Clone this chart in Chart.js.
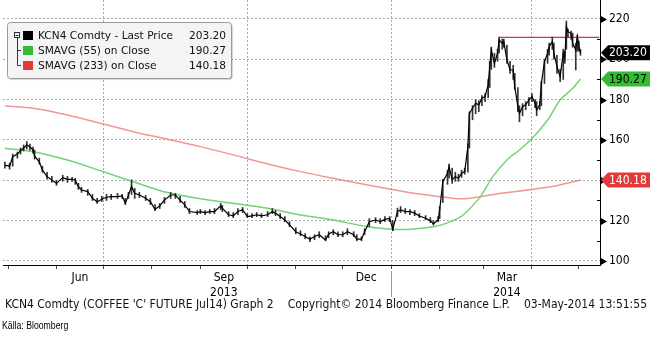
<!DOCTYPE html>
<html>
<head>
<meta charset="utf-8">
<script src="https://cdn.jsdelivr.net/npm/chart.js@4.4.1/dist/chart.umd.min.js"></script>
<style>
  body { margin: 0; background: #fff; }
  #wrap { position: relative; width: 650px; height: 339px; }
  #foot { position: absolute; left: 5px; top: 297px; width: 642px; display: flex; justify-content: space-between;
          font: 12px "DejaVu Sans Condensed", "DejaVu Sans", sans-serif; color: #111; white-space: pre; }
  #src { position: absolute; left: 2px; top: 320px; font: 10px "Liberation Sans Narrow", "Liberation Sans", sans-serif;
         color: #000; transform: scaleX(0.87); transform-origin: left top; }
</style>
</head>
<body>
<div id="wrap">
  <canvas id="myChart" width="650" height="339"></canvas>
  <div id="foot"><span>KCN4 Comdty (COFFEE 'C' FUTURE Jul14) Graph 2</span><span>Copyright© 2014 Bloomberg Finance L.P.</span><span>03-May-2014 13:51:55</span></div>
  <div id="src">Källa: Bloomberg</div>
</div>
<script>
// Data
const priceDates = [
  '2013-04-29','2013-05-02','2013-05-04','2013-05-07','2013-05-09','2013-05-11','2013-05-13','2013-05-15','2013-05-17','2013-05-18',
  '2013-05-21','2013-05-23','2013-05-26','2013-05-29','2013-06-01','2013-06-05','2013-06-08','2013-06-11','2013-06-13','2013-06-15',
  '2013-06-17','2013-06-21','2013-06-24','2013-06-27','2013-06-30','2013-07-03','2013-07-06','2013-07-10','2013-07-13','2013-07-15',
  '2013-07-17','2013-07-19','2013-07-21','2013-07-24','2013-07-28','2013-07-31','2013-08-03','2013-08-06','2013-08-09','2013-08-13',
  '2013-08-16','2013-08-19','2013-08-22','2013-08-25','2013-08-30','2013-09-01','2013-09-04','2013-09-07','2013-09-10','2013-09-14',
  '2013-09-15','2013-09-19','2013-09-22','2013-09-25','2013-09-28','2013-10-01','2013-10-04','2013-10-07','2013-10-10','2013-10-14',
  '2013-10-17','2013-10-19','2013-10-22','2013-10-25','2013-10-28','2013-11-01','2013-11-04','2013-11-07','2013-11-10','2013-11-13',
  '2013-11-16','2013-11-20','2013-11-22','2013-11-25','2013-11-28','2013-12-01','2013-12-04','2013-12-08','2013-12-10','2013-12-13',
  '2013-12-15','2013-12-18','2013-12-22','2013-12-25','2013-12-28','2013-12-31','2014-01-02','2014-01-05','2014-01-07','2014-01-10',
  '2014-01-13','2014-01-16','2014-01-19','2014-01-23','2014-01-26','2014-01-28','2014-01-31','2014-02-01','2014-02-03','2014-02-06',
  '2014-02-07','2014-02-09','2014-02-11','2014-02-13','2014-02-15','2014-02-17','2014-02-19','2014-02-20','2014-02-22','2014-02-24',
  '2014-02-26','2014-02-28','2014-03-02','2014-03-04','2014-03-05','2014-03-06','2014-03-08','2014-03-10','2014-03-11','2014-03-13',
  '2014-03-14','2014-03-16','2014-03-18','2014-03-20','2014-03-21','2014-03-23','2014-03-24','2014-03-26','2014-03-28','2014-03-30',
  '2014-04-01','2014-04-03','2014-04-04','2014-04-06','2014-04-07','2014-04-09','2014-04-11','2014-04-12','2014-04-14','2014-04-15',
  '2014-04-17','2014-04-19','2014-04-21','2014-04-22','2014-04-23','2014-04-24','2014-04-26','2014-04-27','2014-04-29','2014-04-30',
  '2014-05-01','2014-05-02'
];
const priceClose = [
  147.5,147,151.7,153,154.7,156,157.5,156.7,155,152,
  149.2,145,141.8,140.2,138.5,141.3,140.5,140.5,140,136.9,
  135.2,134.4,131.1,129.4,130.6,131.6,131.9,131.9,132.2,128.6,
  132.7,136.9,133.6,132.7,131.1,129.4,125.6,127.3,130.2,132.7,
  132.7,130.2,127.8,124.5,124,124.5,124,124.5,124.5,127.3,
  126.2,122.9,122.4,124.5,125.4,122,122.4,122.9,122.4,122.9,
  124.5,123.6,122,120.3,117.9,114.5,113.4,112.1,110.7,112.1,
  113,110.4,113.4,114.5,113,113,114.5,113,110.8,110.8,
  114.5,119.5,120.3,119.5,120.6,121.1,115.7,124.5,125.3,124.5,
  124.5,123.7,122.3,121.2,120,118.4,120.3,125.3,139.3,143.5,
  146.8,140.2,141.8,141,143.5,144.3,156.7,173.2,175.7,178.2,
  177.4,180.7,181.5,187.3,196.4,204.6,198,203,209.6,207.9,
  208.7,199.7,194.7,194.7,186.4,176.5,173.2,176.5,177.4,179.8,
  181.5,178.2,174.9,177.4,188.1,198.8,203,206.3,208.7,203,
  196.4,191.4,203,200.5,216.2,213.7,212.9,207.9,204.6,211.2,
  206.3,203.2
];
const priceHigh = [
  149,148.5,153,154,156,157.5,159.2,158,156.5,155,
  151,147,144,142,140,142.5,142,141.5,141,138.5,
  136.5,135.5,133,131,132,133,133,133.5,133,131,
  134,140.2,136,134,132.5,131,128,128.5,131.5,134,
  133.5,132,129.5,126,125,125.5,125,125.5,126,128.5,
  127.5,124.5,124,126,126.5,123.5,123.5,124,123.5,124.5,
  126,125,123.5,122,119.5,116.5,115,113.5,112,113,
  114.5,112.5,114.5,115.5,114.5,114.5,116,114.5,113,112,
  116,121,121.5,121,122,122,120,126.2,127,126,
  125.5,125,123.5,122.5,121.5,120,122,127,140.5,145,
  148,146,144,143,145,146,158,174,177,180,
  179.5,182,183,190,199,206,203,205,211,210,
  210,207,199,197,193,186,177,178,179,181,
  183,180,179,179,189,200,205,208,211,208,
  202,195,205,204,219,215,214,213,208,212,
  209,205
];
const priceLow = [
  146,145.5,147,151,153,154.5,155.5,155,153.5,150.5,
  148,144,140.5,139,137.5,139.5,139,139.5,138,135.5,
  134,132.5,130,128.5,129.5,130,130.5,131,131,128,
  131,133,131,131.5,130,128,125,126,128.5,131,
  131,129,126.5,123.5,123,123.5,123,123.5,123.5,125.5,
  124.5,122,121.5,123,124,121.5,121.5,122,121.5,122,
  123.5,122.5,121,119.5,117,113.5,112.5,111,109.6,110.5,
  111.5,110,111.5,113,112,112,113,112,110,110,
  113,117,119,118.5,119.5,119.5,115,122,124,123.5,
  123,122.5,121.5,120.5,119,117.8,119.5,121,129,138,
  141,138.5,139.5,139.5,141.5,143,144,156,170,173,
  174,177,179,181,186,195,196,199,203,205,
  206,198,193,190,185,174,169,172,175,177,
  179,176,172,175,177,188,198,202,205,200,
  193,188.9,190,198,205,211,210,206,194.7,204,
  204,202
];
const sma55Dates = ['2013-04-29','2013-05-17','2013-06-08','2013-06-29','2013-07-20','2013-08-11','2013-09-01','2013-09-22',
  '2013-10-14','2013-11-04','2013-11-25','2013-12-17','2014-01-07','2014-01-28','2014-02-08','2014-02-16','2014-02-27',
  '2014-03-07','2014-03-16','2014-03-24','2014-04-02','2014-04-11','2014-04-19','2014-04-27','2014-05-02'];
const sma55 = [155.9,154.2,150.1,144.8,139.3,133.9,130.8,128.6,126.1,122.8,120.3,117,115.6,117,119.5,122.8,131.9,
  141.8,150.1,155,161.6,169.9,179.8,185.6,190.27];
const sma233Dates = ['2013-04-29','2013-05-17','2013-06-08','2013-06-29','2013-07-20','2013-08-11','2013-09-01','2013-09-22',
  '2013-10-14','2013-11-04','2013-11-25','2013-12-17','2014-01-07','2014-01-19','2014-02-01','2014-02-15','2014-02-27',
  '2014-03-12','2014-04-02','2014-04-19','2014-05-02'];
const sma233 = [176.9,175.7,172.4,168.3,164.1,160.4,156.7,152.6,148.1,144.3,141,137.7,134.7,133.2,131.9,130.8,131.9,
  133.6,135.6,137.7,140.18];
const levelDates = ['2014-03-11','2014-05-14'];
const levelValues = [210.9, 210.9];

// Axis labels
const monthStarts = ['2013-05-01','2013-06-01','2013-07-01','2013-08-01','2013-09-01','2013-10-01','2013-11-01',
  '2013-12-01','2014-01-01','2014-02-01','2014-03-01','2014-04-01','2014-05-01'];
const gridMonths = ['2013-07-01','2013-10-01','2014-01-01','2014-04-01'];
const monthLabelDates = ['2013-06-16','2013-09-16','2013-12-16','2014-03-16'];
const monthLabels = ['Jun','Sep','Dec','Mar'];
const yearLabels = ['','2013','','2014'];
const yearBreak = '2014-01-01';
const yTicks = [100,120,140,160,180,200,220];
const yMinor = [110,130,150,170,190,210];

const legendNames = ['KCN4 Comdty - Last Price','SMAVG (55) on Close','SMAVG (233) on Close'];
const lastValues = [203.20, 190.27, 140.18];
const seriesColors = ['#000000', '#33bb33', '#e03a3a'];

const FONT = '"DejaVu Sans Condensed", "DejaVu Sans", sans-serif';
const day0 = Date.UTC(2013, 4, 1);
function toDay(s) {
  const p = s.split('-').map(Number);
  return (Date.UTC(p[0], p[1] - 1, p[2]) - day0) / 864e5;
}
const startDays = monthStarts.map(toDay);
const gridDays = gridMonths.map(toDay);
const labelDays = monthLabelDates.map(toDay);

// axis arrows, badges, legend
const decor = {
  id: 'decor',
  afterDraw(chart) {
    const {ctx, chartArea: a} = chart;
    const x = chart.scales.x, y = chart.scales.y;
    ctx.save();
    ctx.fillStyle = '#000';
    yTicks.forEach(v => {
      const py = Math.round(y.getPixelForValue(v)) + 0.5;
      ctx.beginPath();
      ctx.moveTo(a.right + 1, py - 3.5);
      ctx.lineTo(a.right + 7, py);
      ctx.lineTo(a.right + 1, py + 3.5);
      ctx.closePath();
      ctx.fill();
    });
    yMinor.forEach(v => {
      const py = Math.round(y.getPixelForValue(v));
      ctx.fillRect(a.right - 3, py, 3, 1);
    });
    // year separator
    const bx = Math.round(x.getPixelForValue(toDay(yearBreak))) + 0.5;
    ctx.strokeStyle = '#999';
    ctx.lineWidth = 1;
    ctx.beginPath();
    ctx.moveTo(bx, a.bottom + 6);
    ctx.lineTo(bx, a.bottom + 32);
    ctx.stroke();

    // last value badges
    ctx.font = '12px ' + FONT;
    ctx.textBaseline = 'middle';
    const textCols = ['#fff', '#000', '#fff'];
    lastValues.forEach((v, i) => {
      const py = y.getPixelForValue(v);
      ctx.fillStyle = seriesColors[i];
      ctx.beginPath();
      ctx.moveTo(a.right + 1, py);
      ctx.lineTo(a.right + 8, py - 7.5);
      ctx.lineTo(chart.width, py - 7.5);
      ctx.lineTo(chart.width, py + 7.5);
      ctx.lineTo(a.right + 8, py + 7.5);
      ctx.closePath();
      ctx.fill();
      ctx.fillStyle = textCols[i];
      ctx.textAlign = 'left';
      ctx.fillText(v.toFixed(2), a.right + 9, py + 0.5);
    });

    // legend box
    ctx.save();
    ctx.shadowColor = 'rgba(0,0,0,0.3)';
    ctx.shadowOffsetX = 1;
    ctx.shadowOffsetY = 1;
    ctx.shadowBlur = 1;
    ctx.fillStyle = '#f4f4f4';
    ctx.beginPath();
    ctx.roundRect(7.5, 22.5, 224, 56, 3);
    ctx.fill();
    ctx.restore();
    ctx.strokeStyle = '#9a9a9a';
    ctx.beginPath();
    ctx.roundRect(7.5, 22.5, 224, 56, 3);
    ctx.stroke();
    // tree lines
    ctx.strokeStyle = '#333';
    ctx.strokeRect(14.5, 32.5, 5, 5);
    ctx.beginPath();
    ctx.moveTo(15.5, 35.5); ctx.lineTo(18.5, 35.5);
    ctx.moveTo(17.5, 38); ctx.lineTo(17.5, 65.5); ctx.lineTo(21, 65.5);
    ctx.moveTo(17.5, 50.5); ctx.lineTo(21, 50.5);
    ctx.stroke();
    ctx.font = '10.6px "DejaVu Sans", sans-serif';
    legendNames.forEach((name, i) => {
      const cy = 35 + i * 15;
      ctx.fillStyle = seriesColors[i];
      ctx.fillRect(23, cy - 4, 10, 9);
      ctx.fillStyle = '#111';
      ctx.textAlign = 'left';
      ctx.fillText(name, 38, cy + 1);
      ctx.textAlign = 'right';
      ctx.fillText(lastValues[i].toFixed(2), 226, cy + 1);
    });
    ctx.restore();
  }
};

const ctx = document.getElementById('myChart').getContext('2d');
const chart = new Chart(ctx, {
  type: 'line',
  data: {
    datasets: [
      {
        label: 'Last Price',
        data: priceDates.map((d, i) => ({x: toDay(d), y: priceClose[i]})),
        borderColor: '#000',
        borderWidth: 1.2,
        pointRadius: 0,
        tension: 0,
        order: 0,
      },
      {
        type: 'bar',
        label: 'Range',
        data: priceDates.map((d, i) => ({x: toDay(d), y: [priceLow[i], priceHigh[i]]})),
        backgroundColor: '#333',
        borderWidth: 0,
        barThickness: 1,
        order: 1,
      },
      {
        label: 'SMAVG (55)',
        data: sma55Dates.map((d, i) => ({x: toDay(d), y: sma55[i]})),
        borderColor: 'rgba(90,205,90,0.85)',
        borderWidth: 1.5,
        pointRadius: 0,
        tension: 0.3,
        order: 2,
      },
      {
        label: 'SMAVG (233)',
        data: sma233Dates.map((d, i) => ({x: toDay(d), y: sma233[i]})),
        borderColor: 'rgba(235,115,115,0.75)',
        borderWidth: 1.5,
        pointRadius: 0,
        tension: 0.3,
        order: 2,
      },
      {
        label: 'Level',
        data: levelDates.map((d, i) => ({x: toDay(d), y: levelValues[i]})),
        borderColor: '#d00000',
        borderWidth: 1,
        pointRadius: 0,
        order: 0,
      }
    ]
  },
  plugins: [decor],
  options: {
    responsive: false,
    animation: false,
    devicePixelRatio: 1,
    layout: { padding: { left: 3, top: 0, right: 0, bottom: 42 } },
    plugins: { legend: { display: false }, tooltip: { enabled: false } },
    scales: {
      x: {
        type: 'linear',
        min: -3.2,
        max: 378.5,
        offset: false,
        afterBuildTicks: s => {
          s.ticks = startDays.concat(labelDays).sort((p, q) => p - q).map(v => ({value: v}));
        },
        afterFit: s => { s.height = 32; s.paddingLeft = 0; s.paddingRight = 0; },
        grid: {
          offset: false,
          color: c => (c.tick && gridDays.includes(c.tick.value)) ? '#aaaaaa' : 'rgba(0,0,0,0)',
          tickColor: c => (c.tick && startDays.includes(c.tick.value)) ? '#444' : 'rgba(0,0,0,0)',
          tickLength: 4,
        },
        border: { display: true, color: '#000', dash: [2, 2] },
        ticks: {
          autoSkip: false,
          maxRotation: 0,
          padding: 2,
          color: '#000',
          font: { family: FONT, size: 12 },
          callback: v => {
            const i = labelDays.indexOf(v);
            if (i < 0) return '';
            return yearLabels[i] ? [monthLabels[i], yearLabels[i]] : monthLabels[i];
          }
        }
      },
      y: {
        position: 'right',
        min: 98,
        max: 229.4,
        afterBuildTicks: s => { s.ticks = yTicks.map(v => ({value: v})); },
        afterFit: s => { s.width = 50; s.paddingTop = 0; s.paddingBottom = 0; },
        grid: { color: '#aaaaaa', drawTicks: false },
        border: { display: true, color: '#000', dash: [2, 2] },
        ticks: { padding: 9, color: '#000', font: { family: FONT, size: 12 } }
      }
    }
  }
});
</script>
</body>
</html>
